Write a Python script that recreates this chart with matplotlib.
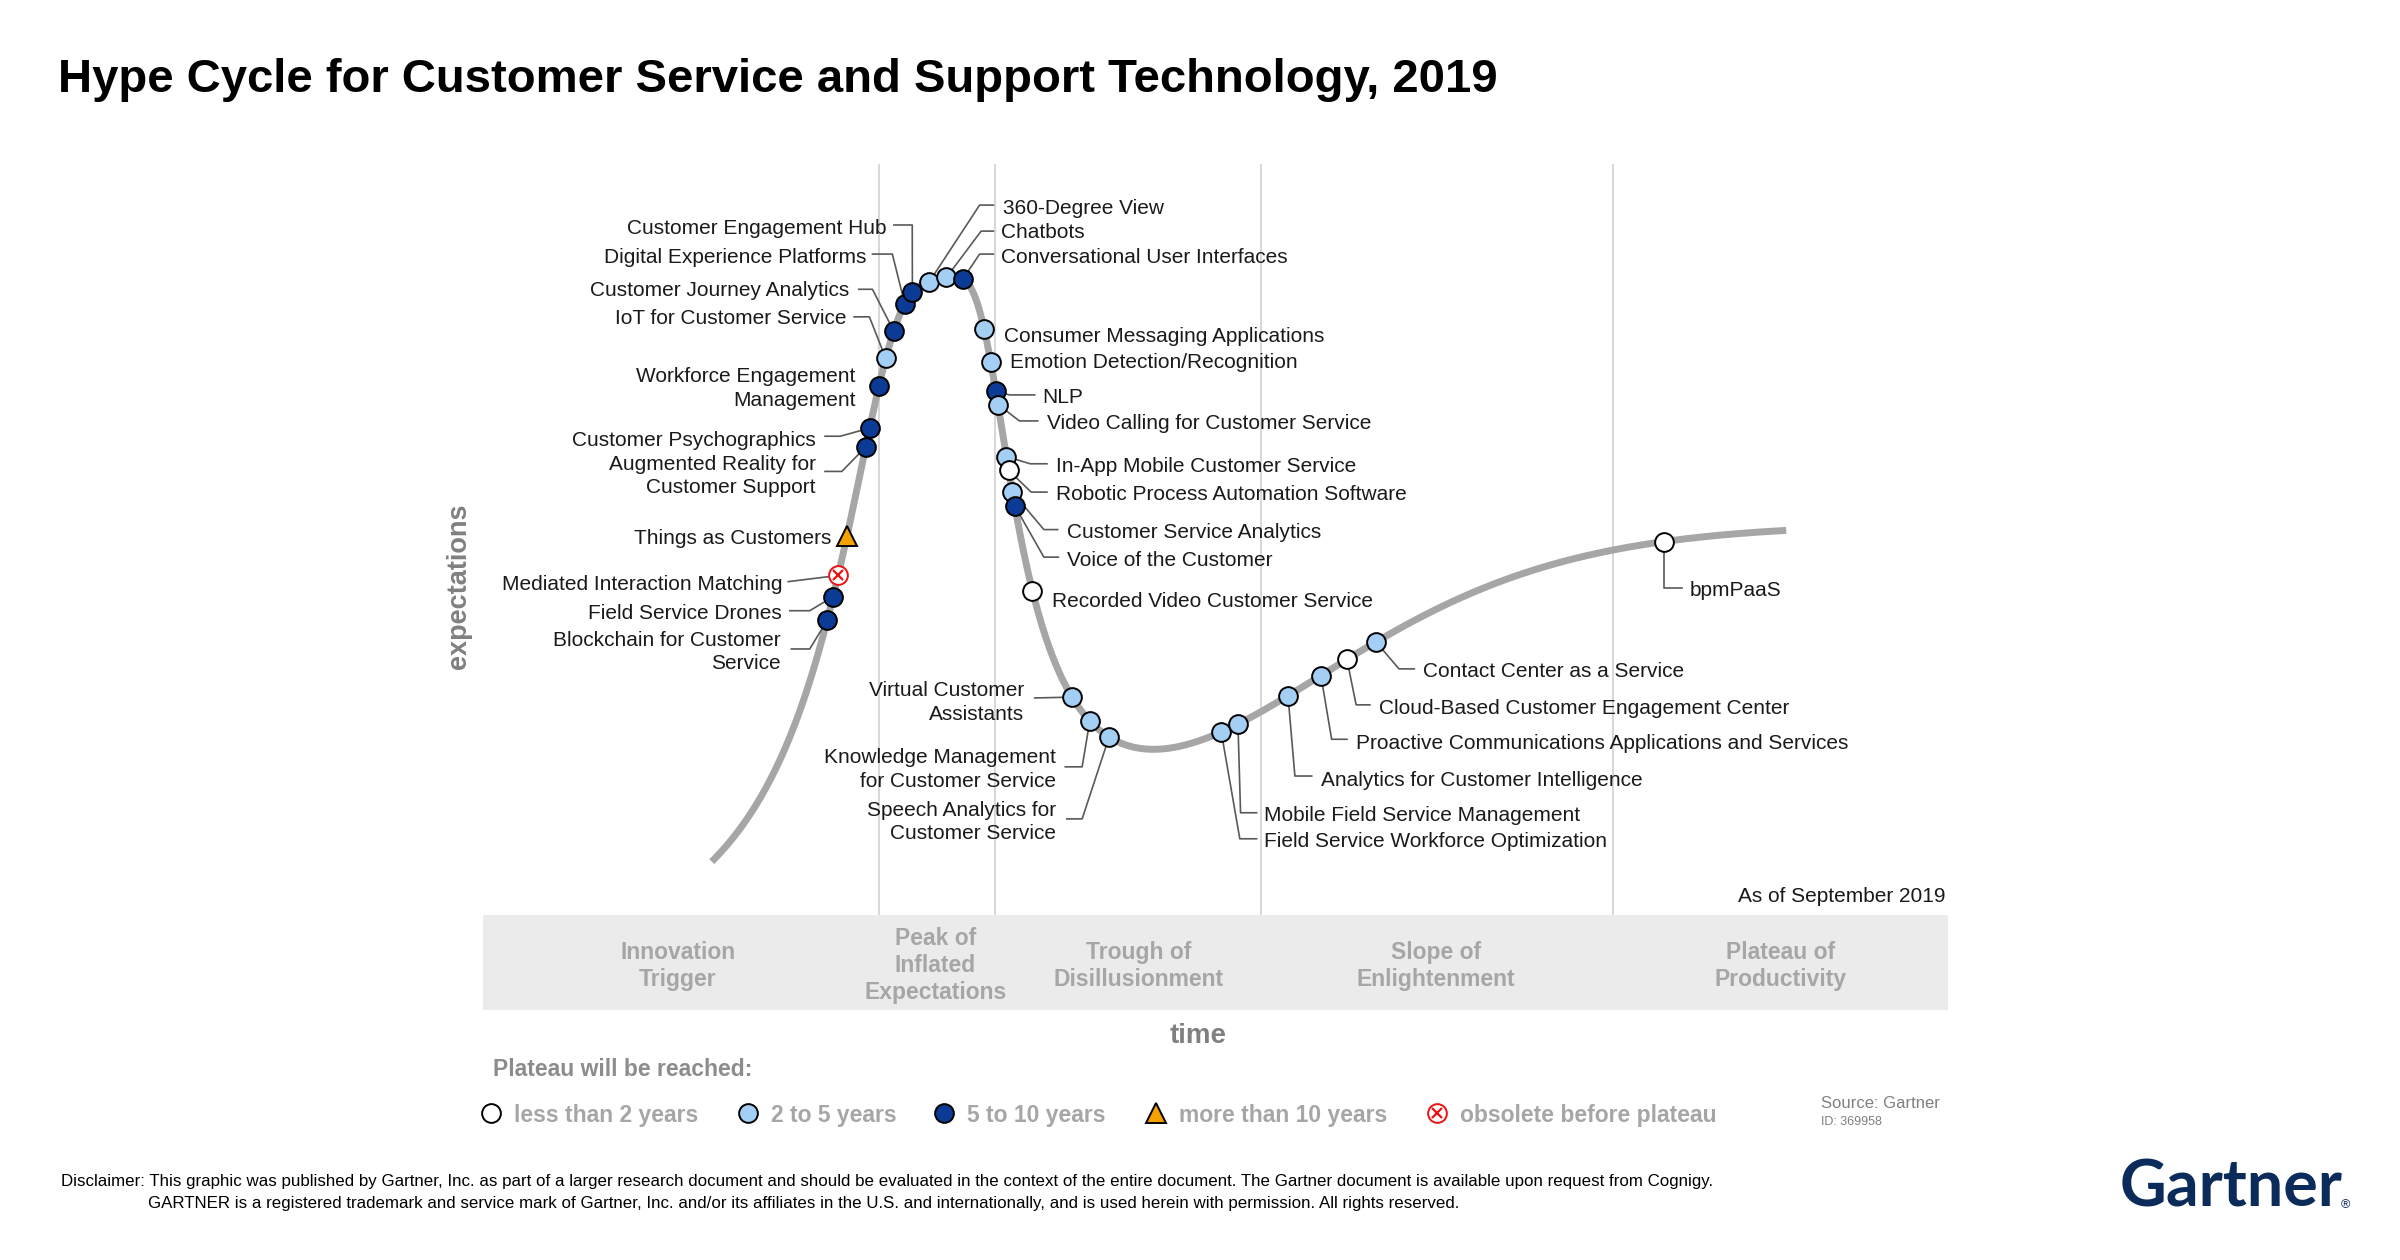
import numpy as np
import matplotlib
matplotlib.use('Agg')
import matplotlib.pyplot as plt
from matplotlib.patches import Rectangle

plt.rcParams['font.family'] = ['Liberation Sans', 'DejaVu Sans']

# technologies on the cycle: name, position in time, years to plateau
names = ['Blockchain for Customer\nService', 'Field Service Drones', 'Mediated Interaction Matching',
         'Things as Customers', 'Augmented Reality for\nCustomer Support', 'Customer Psychographics',
         'Workforce Engagement\nManagement', 'IoT for Customer Service', 'Customer Journey Analytics',
         'Digital Experience Platforms', 'Customer Engagement Hub', '360-Degree View', 'Chatbots',
         'Conversational User Interfaces', 'Consumer Messaging Applications', 'Emotion Detection/Recognition',
         'NLP', 'Video Calling for Customer Service', 'In-App Mobile Customer Service',
         'Robotic Process Automation Software', 'Customer Service Analytics', 'Voice of the Customer',
         'Recorded Video Customer Service', 'Virtual Customer\nAssistants',
         'Knowledge Management\nfor Customer Service', 'Speech Analytics for\nCustomer Service',
         'Field Service Workforce Optimization', 'Mobile Field Service Management',
         'Analytics for Customer Intelligence', 'Proactive Communications Applications and Services',
         'Cloud-Based Customer Engagement Center', 'Contact Center as a Service', 'bpmPaaS']
positions = [226.4, 230.3, 233.6, 239.4, 251.6, 254.2, 260.3, 264.7, 269.9, 277.1, 282.1, 293.0, 304.3,
             315.2, 329.0, 333.3, 336.6, 338.0, 343.5, 345.0, 347.4, 349.0, 360.5, 386.4, 398.0, 410.6,
             483.9, 494.8, 527.5, 549.0, 566.0, 585.0, 773.0]
years = ['5-10', '5-10', 'obsolete', '>10', '5-10', '5-10', '5-10', '2-5', '5-10', '5-10', '5-10', '2-5',
         '2-5', '5-10', '2-5', '2-5', '5-10', '2-5', '2-5', '<2', '2-5', '5-10', '<2', '2-5', '2-5', '2-5',
         '2-5', '2-5', '2-5', '2-5', '<2', '2-5', '<2']

phases = ['Innovation\nTrigger', 'Peak of\nInflated\nExpectations', 'Trough of\nDisillusionment',
          'Slope of\nEnlightenment', 'Plateau of\nProductivity']
legend_labels = ['less than 2 years', '2 to 5 years', '5 to 10 years', 'more than 10 years',
                 'obsolete before plateau']
legend_keys = ['<2', '2-5', '5-10', '>10', 'obsolete']

# shape of the curve: peak (height, centre, left width/exponents, right width/exponents)
# plus the slope/plateau rise (height, midpoint, scale)
curve_shape = [448.2, 293.0, 51.97, 2.708, 0.5737, 43.2, 5.093, 0.2958, 311.6, 510.1, 92.88]
curve_start, curve_end = 151, 853


def hype(x, p=curve_shape):
    A, mu, wl, pl, ql, wr, pr, qr, B, c, k = p
    x = np.asarray(x, float)
    d = np.abs(x - mu)
    left = (1 + (d / wl) ** pl) ** (-ql)
    right = (1 + (d / wr) ** pr) ** (-qr)
    return A * np.where(x < mu, left, right) + B / (1 + np.exp(-(x - c) / k))


# label layout
label_pos = [(196, 236), (197, 261), (197, 280), (229, 310), (219, 351), (219, 374), (245, 408),
             (239, 454), (241, 472), (252, 494), (265, 513), (341, 526), (340, 510), (340, 494),
             (342, 442), (346, 425), (367, 402), (370, 385), (376, 357), (376, 339), (383, 314),
             (383, 296), (373, 269), (355, 203), (376, 159), (376, 125), (512, 112), (512, 129),
             (549, 152), (572, 176), (587, 199), (616, 223), (790, 276)]
label_ha = ['right'] * 11 + ['left'] * 12 + ['right'] * 3 + ['left'] * 7
leaders = [[(203, 236), (215, 236)], [(202, 261), (215, 261)], [(201, 280)], [],
           [(225, 352), (236, 352)], [(225, 375), (235, 375)], [],
           [(244, 453), (254, 453)], [(247, 471), (256, 471)], [(256, 494), (269, 494)],
           [(270, 513), (282, 513)], [(335, 526), (326, 526)], [(335, 509), (327, 509)],
           [(335, 494), (326, 494)], [], [], [(362, 402), (345.5, 402)], [(364, 385), (352, 385)],
           [(370, 357), (359, 357)], [(370, 338.5), (359.7, 338.5)], [(377, 314), (368, 314)],
           [(377.5, 296), (368, 296)], [], [(362, 204)], [(382, 159), (393, 159)],
           [(383, 125), (393, 125)], [(507, 112), (496, 112)], [(507, 129), (496.5, 129)],
           [(543, 153), (532, 153)], [(566, 177), (556, 177)], [(581, 199.5), (572, 199.5)],
           [(610, 223), (600, 223)], [(785, 276), (773, 276)]]
phase_x = [129, 297, 430, 624, 849]
dividers = [260, 336, 510, 740]
dy = -2  # text baseline nudge

styles = {
    '<2': dict(marker='o', mfc='white', mec='black'),
    '2-5': dict(marker='o', mfc='#a3cff5', mec='black'),
    '5-10': dict(marker='o', mfc='#0b3b94', mec='black'),
    '>10': dict(marker='^', mfc='#f5a100', mec='black'),
    'obsolete': dict(marker='o', mfc='white', mec='#ee1111'),
}


def draw_marker(x, y, key, **kw):
    ms = 15 if key == '>10' else 13.5
    ax.plot(x, y, ls='none', ms=ms, mew=1.4, zorder=4, **styles[key], **kw)
    if key == 'obsolete':
        ax.plot(x, y, ls='none', marker='x', ms=7, mew=1.6, color='#ee1111', zorder=5, **kw)


W, Hh = 1568, 823.2
fig = plt.figure(figsize=(24, 12.6), dpi=100)
ax = fig.add_axes([314 / W, (Hh - 660) / Hh, 959 / W, 553 / Hh])
ax.set_xlim(0, 959)
ax.set_ylim(0, 553)
ax.axis('off')

ax.add_patch(Rectangle((1.5, 0), 957.5, 62, color='#ebebeb', zorder=0, lw=0))
ax.vlines(dividers, 62, 553, color='#d4d4d4', lw=1.3, zorder=1)
ax.annotate('', xy=(0, 556), xytext=(0, 0),
            arrowprops=dict(arrowstyle='-|>', color='#a6a6a6', lw=1.6, mutation_scale=9, shrinkA=0, shrinkB=0))
ax.annotate('', xy=(962, 0), xytext=(0, 0),
            arrowprops=dict(arrowstyle='-|>', color='#a6a6a6', lw=1.6, mutation_scale=9, shrinkA=0, shrinkB=0))

xs = np.linspace(curve_start, curve_end, 600)
ax.plot(xs, hype(xs), color='#a6a6a6', lw=5, solid_capstyle='butt', zorder=2)

for i, name in enumerate(names):
    x = positions[i]
    y = float(hype(x))
    if leaders[i]:
        pts = leaders[i] + [(x, y)]
        ax.plot([a for a, b in pts], [b for a, b in pts], color='#595959', lw=1.2, zorder=3)
    draw_marker(x, y, years[i])
    ax.text(label_pos[i][0], label_pos[i][1] + dy, name, ha=label_ha[i], va='center', fontsize=15,
            color='#1a1a1a', linespacing=1.32, zorder=6)

ax.text(957, 76 + dy, 'As of September 2019', ha='right', va='center', fontsize=15, color='#1a1a1a')
for px, ph in zip(phase_x, phases):
    ax.text(px, 31 + dy, ph, ha='center', va='center', fontsize=16.5, fontweight='bold', color='#a6a6a6',
            linespacing=1.22)
ax.text(469, -15 + dy, 'time', ha='center', va='center', fontsize=20, fontweight='bold', color='#808080')
ax.text(-14, 277, 'expectations', ha='center', va='center', rotation=90, fontsize=19.5,
        fontweight='bold', color='#808080')

# legend
ax.text(8, -37 + dy, 'Plateau will be reached:', ha='left', va='center', fontsize=16.5, fontweight='bold',
        color='#8c8c8c')
leg_x = [7, 175, 303, 441, 625]
for lx, key, lab in zip(leg_x, legend_keys, legend_labels):
    draw_marker(lx, -67, key, clip_on=False)
    ax.text(lx + 15, -67 + dy, lab, ha='left', va='center', fontsize=16.5, fontweight='bold', color='#a6a6a6')
ax.text(876, -59 + dy, 'Source: Gartner', ha='left', va='center', fontsize=12, color='#808080')
ax.text(876, -71 + dy, 'ID: 369958', ha='left', va='center', fontsize=9, color='#808080')

fig.text(38 / W, 1 - 52 / Hh, 'Hype Cycle for Customer Service and Support Technology, 2019',
         ha='left', va='center', fontsize=34, fontweight='bold', color='black')
fig.text(40 / W, 1 - 772 / Hh, 'Disclaimer: This graphic was published by Gartner, Inc. as part of a larger '
         'research document and should be evaluated in the context of the entire document. The Gartner '
         'document is available upon request from Cognigy.', ha='left', va='center', fontsize=12.2)
fig.text(97 / W, 1 - 786 / Hh, 'GARTNER is a registered trademark and service mark of Gartner, Inc. and/or '
         'its affiliates in the U.S. and internationally, and is used herein with permission. All rights '
         'reserved.', ha='left', va='center', fontsize=12.2)
fig.text(1385 / W, 1 - 776 / Hh, 'Gartner', ha='left', va='center', fontsize=46.5, fontweight='bold',
         color='#0b2b5a', family=['Lato', 'DejaVu Sans'])
fig.text(1529 / W, 1 - 787 / Hh, '\u00ae', ha='left', va='center', fontsize=9, color='#0b2b5a')

fig.savefig('out.png', dpi=100)
